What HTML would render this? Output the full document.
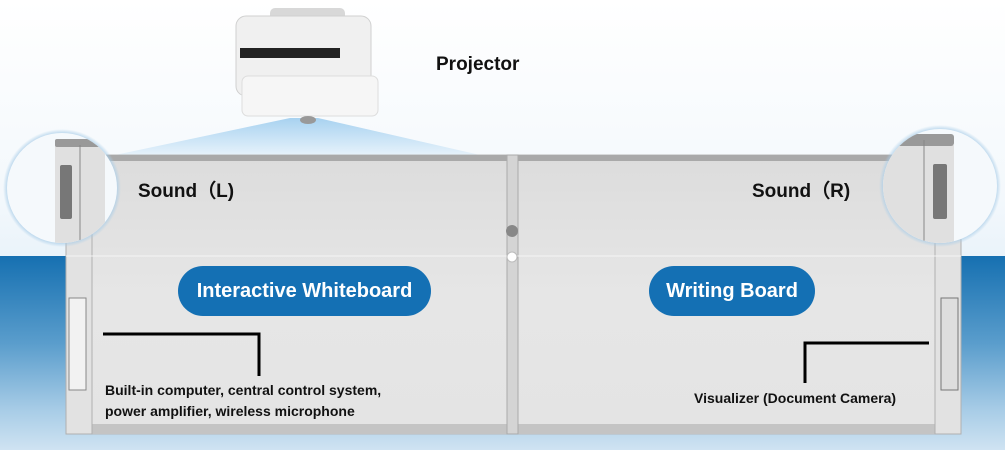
<!DOCTYPE html>
<html><head><meta charset="utf-8"><style>
html,body{margin:0;padding:0}
body{width:1005px;height:450px;position:relative;overflow:hidden;font-family:"Liberation Sans",sans-serif;
background:linear-gradient(#ffffff 0px,#f3f8fc 200px,#eaf3fa 255px);}
.band{position:absolute;left:0;top:256px;width:1005px;height:194px;background:linear-gradient(#1670b1 0%,#5a9dcc 45%,#a9cde7 80%,#cfe3f2 100%);}
.a{position:absolute}
.t{position:absolute;font-weight:bold;color:#111;white-space:nowrap}
.pill{position:absolute;background:#1470b4;color:#fff;font-weight:bold;font-size:20px;border-radius:26px;text-align:center;line-height:50px;height:50px}
</style></head><body>
<div class="band"></div>
<svg class="a" style="left:0;top:0" width="1005" height="450">
<defs>
<linearGradient id="cone" x1="0" y1="0" x2="0" y2="1"><stop offset="0" stop-color="#a8d2f0"/><stop offset="1" stop-color="#e6f2fb"/></linearGradient>
<linearGradient id="brd" x1="0" y1="0" x2="0" y2="1"><stop offset="0" stop-color="#dcdcdc"/><stop offset="0.5" stop-color="#e6e6e6"/><stop offset="1" stop-color="#e4e4e4"/></linearGradient>
<radialGradient id="glow"><stop offset="0.9" stop-color="#a9cde8"/><stop offset="1" stop-color="#a9cde8" stop-opacity="0"/></radialGradient>
<clipPath id="cl"><circle cx="62" cy="188" r="55"/></clipPath>
<clipPath id="cr"><circle cx="940" cy="186" r="57"/></clipPath>
</defs>
<polygon points="290,118 318,118 480,155 115,155" fill="url(#cone)"/>
<!-- projector -->
<rect x="270" y="8" width="75" height="16" rx="5" fill="#d8d8d8"/>
<rect x="236" y="16" width="135" height="80" rx="10" fill="#f0f0f0" stroke="#d0d0d0"/>
<rect x="240" y="48" width="100" height="10" fill="#222"/>
<rect x="242" y="76" width="136" height="40" rx="6" fill="#f6f6f6" stroke="#ddd"/>
<ellipse cx="308" cy="120" rx="8" ry="4" fill="#999"/>
<!-- board -->
<rect x="66" y="155" width="895" height="279" fill="url(#brd)" stroke="#b8b8b8"/>
<rect x="66" y="155" width="895" height="6" fill="#a9a9a9"/>
<rect x="66" y="424" width="895" height="10" fill="#c4c4c4"/>
<rect x="66" y="155" width="26" height="279" fill="#e2e2e2" stroke="#b0b0b0"/>
<rect x="935" y="155" width="26" height="279" fill="#e2e2e2" stroke="#b0b0b0"/>
<rect x="507" y="155" width="11" height="279" fill="#d4d4d4" stroke="#aaa"/>
<line x1="66" y1="256" x2="961" y2="256" stroke="#f4f4f4" stroke-width="1"/>
<circle cx="512" cy="231" r="6" fill="#888"/><circle cx="512" cy="257" r="5" fill="#fff" stroke="#bbb"/>
<rect x="69" y="298" width="17" height="92" fill="#f2f2f2" stroke="#888"/>
<rect x="941" y="298" width="17" height="92" fill="#dedede" stroke="#777"/>
<!-- circles -->
<circle cx="62" cy="188" r="59" fill="url(#glow)"/>
<g clip-path="url(#cl)">
<rect x="0" y="120" width="130" height="140" fill="#f5f9fc"/>
<path d="M55,145 h50 v110 h-50z" fill="#e0e0e0"/><rect x="55" y="139" width="50" height="8" rx="2" fill="#999"/>
<line x1="80" y1="145" x2="80" y2="250" stroke="#888"/>
<rect x="60" y="165" width="12" height="54" rx="2" fill="#777"/>
</g>
<circle cx="940" cy="186" r="61" fill="url(#glow)"/>
<g clip-path="url(#cr)">
<rect x="875" y="120" width="130" height="140" fill="#f5f9fc"/>
<path d="M870,145 h84 v110 h-84z" fill="#e0e0e0"/><rect x="870" y="134" width="84" height="12" rx="3" fill="#999"/>
<line x1="924" y1="140" x2="924" y2="250" stroke="#888"/>
<rect x="933" y="164" width="14" height="55" rx="2" fill="#777"/>
</g>
<!-- callouts -->
<polyline points="103,334 259,334 259,376" fill="none" stroke="#000" stroke-width="3"/>
<polyline points="805,383 805,343 929,343" fill="none" stroke="#000" stroke-width="3"/>
</svg>
<div class="t" style="left:436px;top:54px;font-size:19px">Projector</div>
<div class="t" style="left:138px;top:176px;font-size:19px">Sound（L)</div>
<div class="t" style="left:752px;top:176px;font-size:19px">Sound（R)</div>
<div class="pill" style="left:178px;top:266px;width:253px">Interactive Whiteboard</div>
<div class="pill" style="left:649px;top:266px;width:166px">Writing Board</div>
<div class="t" style="left:105px;top:380px;font-size:14px;line-height:21px">Built-in computer, central control system,<br>power amplifier, wireless microphone</div>
<div class="t" style="left:694px;top:390px;font-size:14px">Visualizer (Document Camera)</div>
</body></html>
